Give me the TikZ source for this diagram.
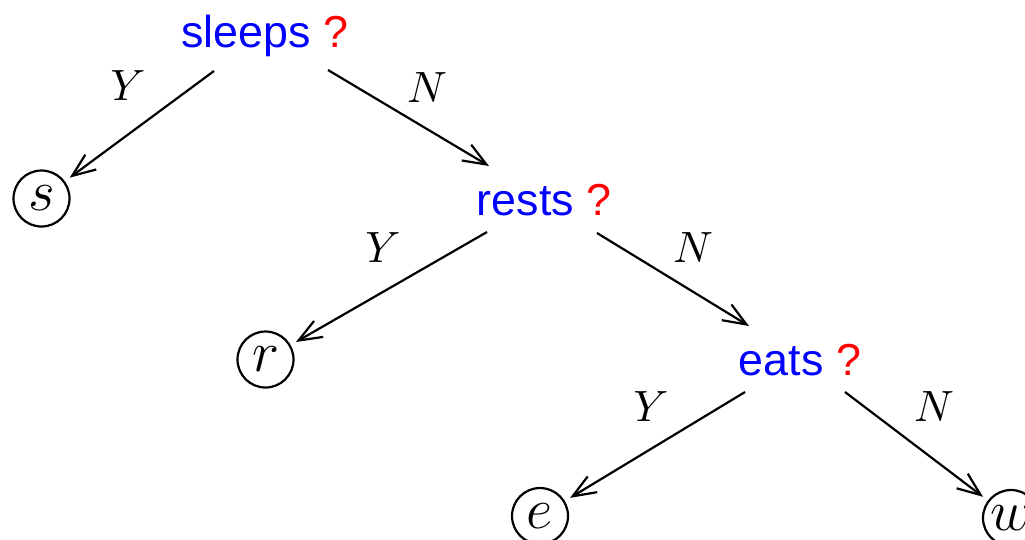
\documentclass[tikz,border=0pt]{standalone}
\usepackage{fontspec}
\setsansfont{Liberation Sans}
\usetikzlibrary{arrows.meta}
\begin{document}
\begin{tikzpicture}[x=0.25pt,y=-0.25pt,
  question/.style={inner sep=0pt,anchor=base,font=\sffamily\fontsize{11.2}{13}\selectfont},
  leaf/.style={draw,circle,line width=0.55pt,minimum size=14pt,inner sep=0pt,font=\fontsize{13.5}{15}\selectfont},
  lbl/.style={inner sep=0pt,font=\fontsize{10.6}{12}\selectfont},
  edge/.style={line width=0.55pt,-{Straight Barb[length=5.8pt,width=4.6pt,line width=0.55pt]},shorten >=1.5pt}]
\useasboundingbox (0,0) rectangle (1025,539);
% question nodes
\node[question] (sleeps) at (264.5,47) {\textcolor{blue}{sleeps} \textcolor{red}{?}};
\node[question] (rests) at (544,215) {\textcolor{blue}{rests} \textcolor{red}{?}};
\node[question] (eats) at (800,375) {\textcolor{blue}{eats} \textcolor{red}{?}};
% leaves
\node[leaf] (s) at (41.5,198.5) {$s$};
\node[leaf] (r) at (265.5,359.5) {$r$};
\node[leaf] (e) at (540,516) {$e$};
\node[leaf] (w) at (1011,518) {$w$};
% connector end points
\coordinate (sleepsY) at (214,71);
\coordinate (sleepsN) at (328,70);
\coordinate (restsIn) at (489,166);
\coordinate (restsY) at (487,232);
\coordinate (restsN) at (597,233);
\coordinate (eatsIn) at (749,326);
\coordinate (eatsY) at (745,392);
\coordinate (eatsN) at (845,392);
% connectors
\draw[edge] (sleepsY) -- (s);
\draw[edge,shorten >=0pt] (sleepsN) -- (restsIn);
\draw[edge] (restsY) -- (r);
\draw[edge,shorten >=0pt] (restsN) -- (eatsIn);
\draw[edge] (eatsY) -- (e);
\draw[edge] (eatsN) -- (w);
% labels
\node[lbl] (y1) at (128,86) {$Y$};
\node[lbl] (n1) at (427,88) {$N$};
\node[lbl] (y2) at (383,248) {$Y$};
\node[lbl] (n2) at (693,248) {$N$};
\node[lbl] (y3) at (651,407) {$Y$};
\node[lbl] (n3) at (934,407) {$N$};
\end{tikzpicture}
\end{document}
